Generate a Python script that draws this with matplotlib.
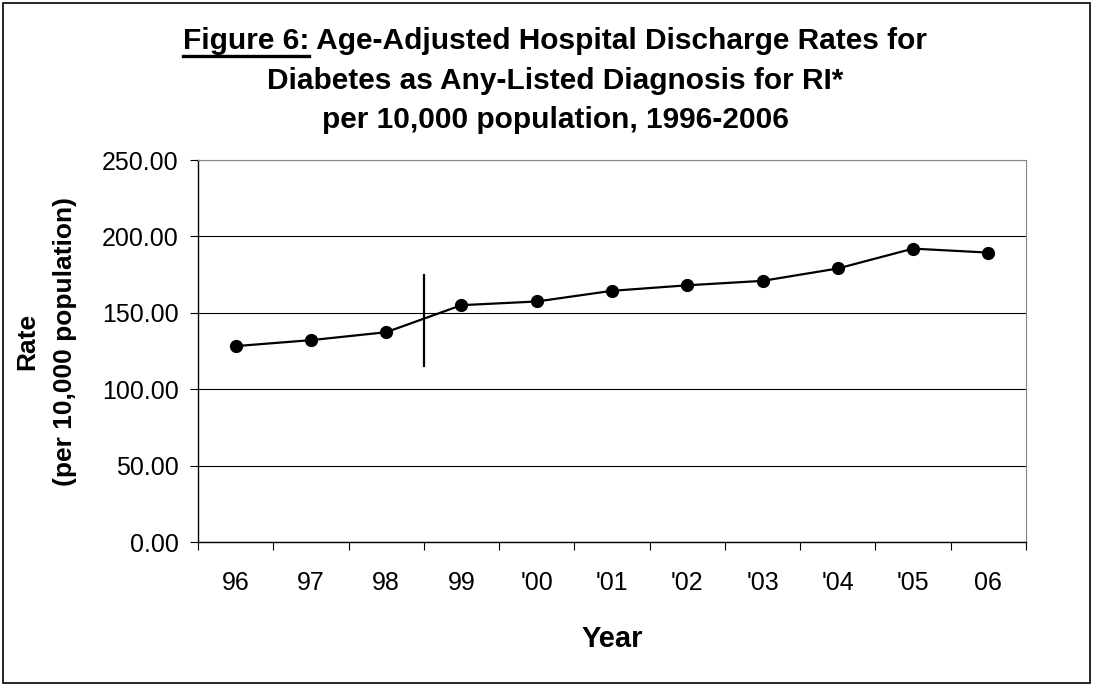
import numpy as np
import matplotlib.pyplot as plt
from matplotlib.patches import Rectangle

plt.rcParams['font.family'] = ['Liberation Sans', 'DejaVu Sans']

years = ['96', '97', '98', '99', "'00", "'01", "'02", "'03", "'04", "'05", '06']
rates = [128.2, 132.1, 137.3, 155.0, 157.4, 164.4, 168.0, 170.9, 179.0, 192.0, 189.4]
break_pos = 2.5          # break in the series between 98 and 99
break_span = [115.0, 175.0]

W, H = 1095, 686
fig = plt.figure(figsize=(W / 100, H / 100), dpi=100)

# outer chart border
fig.patches.append(Rectangle((3 / W, 3 / H), 1087 / W, 680 / H, transform=fig.transFigure,
                             fill=False, edgecolor='black', linewidth=1.2))

ax = fig.add_axes([198 / W, 1 - 542 / H, 828 / W, 382 / H])
x = np.arange(len(years))
ax.plot(x, rates, color='black', linewidth=1.6, marker='o', markersize=8.5, zorder=3)
ax.plot([break_pos, break_pos], break_span, color='black', linewidth=1.6, zorder=3)

ax.set_xlim(-0.5, len(years) - 0.5)
ax.set_ylim(0, 250)
ax.set_yticks(np.arange(0, 251, 50))
ax.set_yticklabels(['%.2f' % v for v in np.arange(0, 251, 50)], fontsize=18)
ax.set_xticks(x)
ax.set_xticklabels(years, fontsize=18)
ax.tick_params(axis='x', length=0, pad=21)
ax.set_xticks(np.arange(-0.5, len(years), 1), minor=True)
ax.tick_params(axis='x', which='minor', length=6, width=0.8, direction='out')
ax.tick_params(axis='y', length=6, width=0.8, direction='out', pad=8)
ax.yaxis.grid(True, color='black', linewidth=0.8)
ax.set_axisbelow(True)
for s in ['top', 'right']:
    ax.spines[s].set_color('#888888')
for s in ['left', 'bottom']:
    ax.spines[s].set_color('black')
    ax.spines[s].set_linewidth(1.0)

# axis titles
fig.text(612 / W, 1 - 647 / H, 'Year', ha='center', va='baseline', fontsize=21, fontweight='bold')
fig.text(27 / W, 1 - 341 / H, 'Rate', ha='center', va='center', rotation=90,
         fontsize=19, fontweight='bold')
fig.text(65 / W, 1 - 341 / H, '(per 10,000 population)', ha='center', va='center', rotation=90,
         fontsize=19, fontweight='bold')

# title, with "Figure 6:" underlined
fs = 21.5
cx = 555 / W
head = 'Figure 6:'
line1_rest = ' Age-Adjusted Hospital Discharge Rates for'
full = fig.text(cx, 1 - 49 / H, head + line1_rest, ha='center', va='baseline',
                fontsize=fs, fontweight='bold')
fig.text(cx, 1 - 89 / H, 'Diabetes as Any-Listed Diagnosis for RI*', ha='center', va='baseline',
         fontsize=fs, fontweight='bold')
fig.text(cx, 1 - 128 / H, 'per 10,000 population, 1996-2006', ha='center', va='baseline',
         fontsize=fs, fontweight='bold')

renderer = fig.canvas.get_renderer()
bb = full.get_window_extent(renderer)
full.set_visible(False)
head_txt = fig.text(bb.x0 / W, 1 - 49 / H, head, ha='left', va='baseline',
                    fontsize=fs, fontweight='bold')
bb1 = head_txt.get_window_extent(renderer)
fig.text(bb1.x1 / W, 1 - 49 / H, line1_rest, ha='left', va='baseline',
         fontsize=fs, fontweight='bold')
uy = 1 - 56 / H
fig.add_artist(plt.Line2D([bb1.x0 / W, bb1.x1 / W], [uy, uy], transform=fig.transFigure,
                          color='black', linewidth=2.4))

fig.savefig('out.png', dpi=100)
